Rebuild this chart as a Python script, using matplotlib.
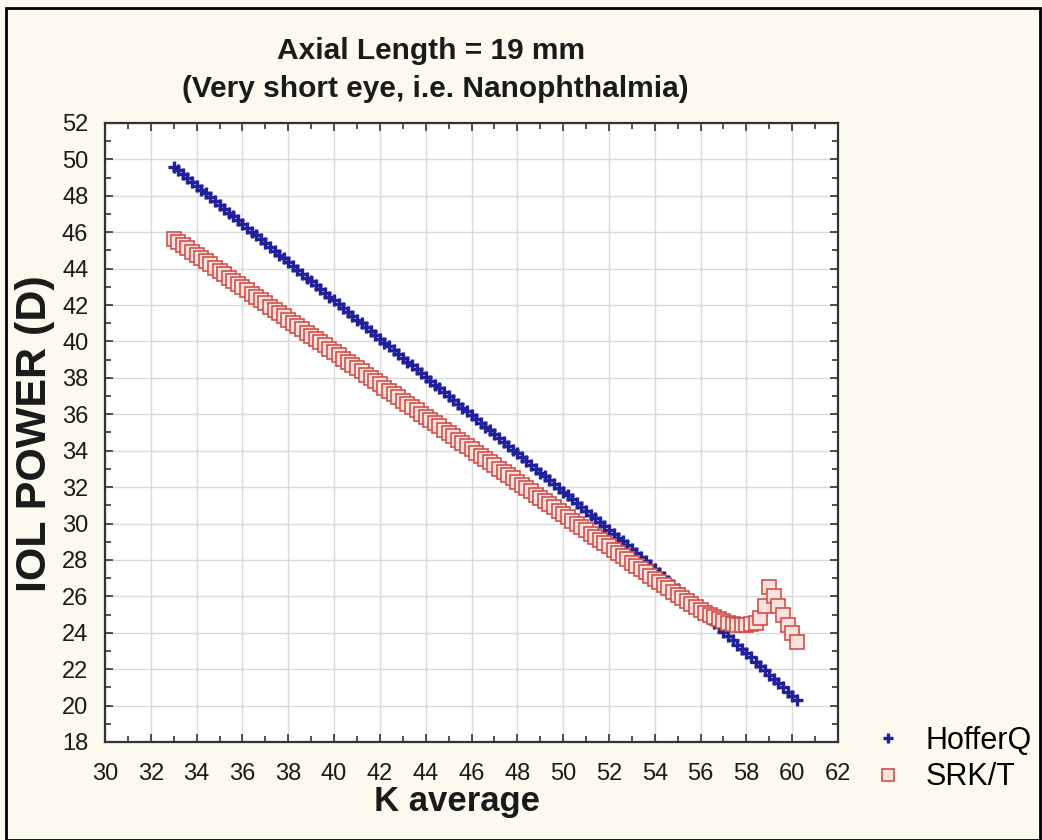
import matplotlib
matplotlib.use('Agg')
import matplotlib.pyplot as plt
import matplotlib.font_manager as fm
from matplotlib.patches import Rectangle
from matplotlib.ticker import MultipleLocator

# K average (D)
k_average = [
    33.0, 33.2, 33.4, 33.6, 33.8, 34.0, 34.2, 34.4, 34.6, 34.8,
    35.0, 35.2, 35.4, 35.6, 35.8, 36.0, 36.2, 36.4, 36.6, 36.8,
    37.0, 37.2, 37.4, 37.6, 37.8, 38.0, 38.2, 38.4, 38.6, 38.8,
    39.0, 39.2, 39.4, 39.6, 39.8, 40.0, 40.2, 40.4, 40.6, 40.8,
    41.0, 41.2, 41.4, 41.6, 41.8, 42.0, 42.2, 42.4, 42.6, 42.8,
    43.0, 43.2, 43.4, 43.6, 43.8, 44.0, 44.2, 44.4, 44.6, 44.8,
    45.0, 45.2, 45.4, 45.6, 45.8, 46.0, 46.2, 46.4, 46.6, 46.8,
    47.0, 47.2, 47.4, 47.6, 47.8, 48.0, 48.2, 48.4, 48.6, 48.8,
    49.0, 49.2, 49.4, 49.6, 49.8, 50.0, 50.2, 50.4, 50.6, 50.8,
    51.0, 51.2, 51.4, 51.6, 51.8, 52.0, 52.2, 52.4, 52.6, 52.8,
    53.0, 53.2, 53.4, 53.6, 53.8, 54.0, 54.2, 54.4, 54.6, 54.8,
    55.0, 55.2, 55.4, 55.6, 55.8, 56.0, 56.2, 56.4, 56.6, 56.8,
    57.0, 57.2, 57.4, 57.6, 57.8, 58.0, 58.2, 58.4, 58.6, 58.8,
    59.0, 59.2, 59.4, 59.6, 59.8, 60.0, 60.2]

# IOL power, Hoffer Q
hofferq = [
    49.60, 49.39, 49.18, 48.97, 48.76, 48.55, 48.34, 48.13, 47.92, 47.71,
    47.50, 47.29, 47.08, 46.87, 46.66, 46.45, 46.24, 46.03, 45.82, 45.61,
    45.40, 45.19, 44.98, 44.77, 44.56, 44.35, 44.14, 43.93, 43.72, 43.51,
    43.30, 43.09, 42.88, 42.67, 42.46, 42.25, 42.04, 41.83, 41.62, 41.41,
    41.20, 40.99, 40.78, 40.57, 40.36, 40.15, 39.94, 39.73, 39.52, 39.31,
    39.10, 38.89, 38.68, 38.47, 38.26, 38.05, 37.84, 37.63, 37.42, 37.21,
    37.00, 36.79, 36.58, 36.37, 36.16, 35.95, 35.74, 35.53, 35.32, 35.11,
    34.90, 34.69, 34.48, 34.27, 34.06, 33.85, 33.64, 33.43, 33.22, 33.01,
    32.80, 32.59, 32.38, 32.17, 31.96, 31.75, 31.54, 31.33, 31.12, 30.91,
    30.70, 30.49, 30.28, 30.07, 29.86, 29.65, 29.44, 29.23, 29.02, 28.81,
    28.60, 28.38, 28.16, 27.94, 27.72, 27.50, 27.28, 27.06, 26.84, 26.62,
    26.40, 26.17, 25.93, 25.70, 25.46, 25.23, 24.99, 24.76, 24.52, 24.29,
    24.05, 23.82, 23.58, 23.35, 23.11, 22.88, 22.64, 22.41, 22.17, 21.94,
    21.70, 21.47, 21.23, 21.00, 20.76, 20.53, 20.29]

# IOL power, SRK/T
srkt = [
    45.65, 45.47, 45.29, 45.12, 44.94, 44.76, 44.58, 44.40, 44.23, 44.05,
    43.87, 43.69, 43.51, 43.34, 43.16, 42.98, 42.80, 42.62, 42.45, 42.27,
    42.09, 41.91, 41.73, 41.56, 41.38, 41.20, 41.02, 40.84, 40.67, 40.49,
    40.31, 40.13, 39.95, 39.78, 39.60, 39.42, 39.24, 39.06, 38.89, 38.71,
    38.53, 38.35, 38.17, 38.00, 37.82, 37.64, 37.46, 37.28, 37.11, 36.93,
    36.75, 36.57, 36.39, 36.22, 36.04, 35.86, 35.68, 35.50, 35.33, 35.15,
    34.97, 34.79, 34.61, 34.44, 34.26, 34.08, 33.90, 33.72, 33.55, 33.37,
    33.19, 33.01, 32.83, 32.66, 32.48, 32.30, 32.12, 31.94, 31.77, 31.59,
    31.41, 31.23, 31.05, 30.88, 30.70, 30.52, 30.34, 30.16, 29.99, 29.81,
    29.63, 29.45, 29.27, 29.10, 28.92, 28.74, 28.56, 28.38, 28.21, 28.03,
    27.85, 27.67, 27.49, 27.32, 27.14, 26.96, 26.78, 26.60, 26.43, 26.25,
    26.07, 25.90, 25.73, 25.57, 25.41, 25.26, 25.11, 24.97, 24.85, 24.74,
    24.64, 24.55, 24.48, 24.43, 24.41, 24.42, 24.46, 24.56, 24.80, 25.45,
    26.50, 26.00, 25.48, 24.95, 24.45, 23.98, 23.48]

series_names = ['HofferQ', 'SRK/T']
x_ticks = list(range(30, 63, 2))
y_ticks = list(range(18, 53, 2))

plt.rcParams['font.family'] = ['Liberation Sans', 'DejaVu Sans']

# condensed face for the title if there is one
installed = {f.name for f in fm.fontManager.ttflist}
if 'Liberation Sans Narrow' in installed:
    title_font = ['Liberation Sans Narrow', 'DejaVu Sans']
    title_size = 26
else:
    title_font = ['Liberation Sans', 'DejaVu Sans']
    title_size = 21.5


def plot():
    # Create figure
    fig = plt.figure(figsize=(10.42, 8.4), dpi=100, facecolor='#fcf9ee')
    ax = fig.add_axes([0.1008, 0.1167, 0.7034, 0.7369])
    ax.set_facecolor('white')

    # Data
    ax.plot(k_average, hofferq, linestyle='none', marker='+', markersize=8.5,
            markeredgewidth=2.4, color='#21219c', label=series_names[0], zorder=3)
    ax.plot(k_average, srkt, linestyle='none', marker='s', markersize=9.5,
            markeredgewidth=1.2, markeredgecolor='#d0504c',
            markerfacecolor='#fbe2df', label=series_names[1], zorder=4)

    # Axes, ticks and grid
    ax.set_xlim(30, 62)
    ax.set_ylim(18, 52)
    ax.set_xticks(x_ticks)
    ax.set_yticks(y_ticks)
    ax.xaxis.set_minor_locator(MultipleLocator(1))
    ax.yaxis.set_minor_locator(MultipleLocator(1))
    ax.tick_params(which='both', direction='in', top=True, right=True,
                   color='#333333', width=1.2)
    ax.tick_params(which='major', length=6, labelsize=17, labelcolor='#1a1a1a')
    ax.tick_params(which='minor', length=4)
    ax.tick_params(axis='x', which='major', pad=15)
    ax.tick_params(axis='y', which='major', pad=12)
    ax.grid(True, which='major', color='#dadada', linewidth=1.0)
    ax.set_axisbelow(True)
    for s in ax.spines.values():
        s.set_color('#333333')
        s.set_linewidth(1.6)

    # Texts
    fig.text(0.414, 0.939, 'Axial Length = 19 mm', ha='center', va='center',
             fontsize=title_size, fontweight='bold', family=title_font,
             color='#1a1a1a')
    fig.text(0.418, 0.894, '(Very short eye, i.e. Nanophthalmia)', ha='center',
             va='center', fontsize=title_size, fontweight='bold',
             family=title_font, color='#1a1a1a')
    fig.text(0.034, 0.484, 'IOL POWER (D)', rotation=90, ha='center',
             va='center', fontsize=31, fontweight='bold', color='#1a1a1a')
    fig.text(0.4386, 0.0460, 'K average', ha='center', va='center',
             fontsize=25, fontweight='bold', color='#1a1a1a')

    # Legend
    ax.legend(loc='center left', bbox_to_anchor=(0.838, 0.0965),
              bbox_transform=fig.transFigure, frameon=False, fontsize=22,
              borderpad=0, borderaxespad=0, handlelength=1.0,
              handletextpad=0.72, labelspacing=0.22, markerscale=0.85)

    # Outer border
    fig.patches.append(Rectangle((0.006, 0.0), 0.992, 0.99, fill=False,
                                 edgecolor='black', linewidth=2,
                                 transform=fig.transFigure, figure=fig))

    fig.savefig('out.png', dpi=100, facecolor=fig.get_facecolor())


plot()
